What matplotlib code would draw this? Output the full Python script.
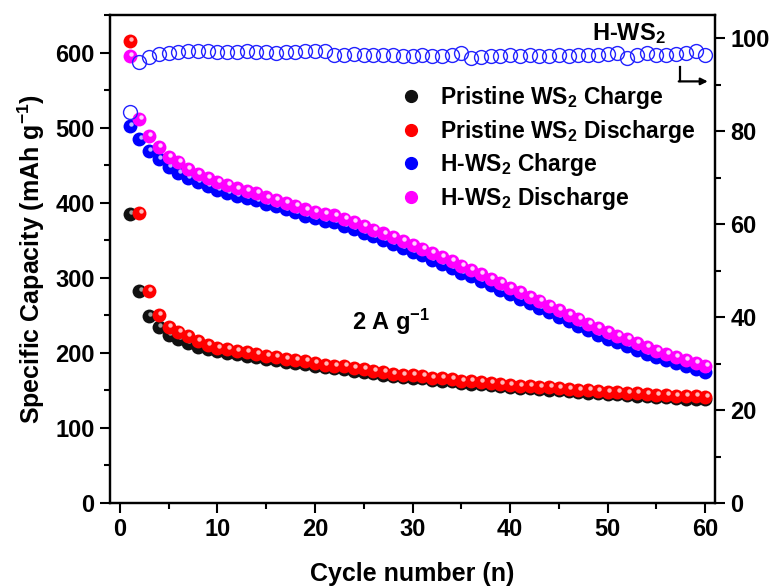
import matplotlib
matplotlib.use('Agg')
import matplotlib.pyplot as plt
from matplotlib.lines import Line2D
from matplotlib.transforms import offset_copy

plt.rcParams['font.family'] = ['Liberation Sans', 'DejaVu Sans']
plt.rcParams['font.weight'] = 'bold'
plt.rcParams['mathtext.fontset'] = 'custom'
plt.rcParams['mathtext.rm'] = 'Liberation Sans:bold'
plt.rcParams['mathtext.it'] = 'Liberation Sans:bold'
plt.rcParams['mathtext.bf'] = 'Liberation Sans:bold'
plt.rcParams['mathtext.default'] = 'bf'

# cycle index
cycles = list(range(1, 61))

# pristine WS2, specific capacity (mAh/g)
pristine_charge = [385, 282, 249, 234, 224, 218, 213, 208, 205, 202,
                   200, 198, 196, 194, 192, 190, 188, 187, 185, 183,
                   181, 180, 178, 176, 174, 173, 171, 169, 168, 167,
                   166, 164, 163, 162, 160, 159, 158, 157, 156, 154,
                   153, 153, 152, 151, 150, 149, 148, 147, 146, 145,
                   145, 144, 143, 142, 141, 141, 140, 139, 139, 138]
pristine_discharge = [615, 386, 283, 250, 235, 228, 222, 216, 211, 207,
                      205, 203, 201, 199, 196, 194, 192, 190, 189, 187,
                      184, 183, 182, 180, 178, 176, 174, 172, 171, 170,
                      169, 167, 166, 165, 163, 162, 161, 160, 159, 157,
                      156, 156, 155, 154, 153, 152, 151, 150, 149, 148,
                      148, 147, 146, 145, 144, 144, 143, 142, 142, 141]

# H-WS2, specific capacity (mAh/g)
h_charge = [502, 485, 469, 458, 447, 440, 433, 427, 422, 417,
            413, 409, 406, 403, 398, 395, 391, 387, 382, 379,
            376, 374, 369, 365, 360, 355, 350, 345, 340, 335,
            330, 324, 319, 313, 307, 302, 296, 290, 284, 278,
            272, 266, 260, 254, 248, 242, 236, 230, 224, 219,
            214, 209, 204, 199, 194, 190, 186, 182, 178, 174]
h_discharge = [596, 511, 489, 474, 461, 454, 445, 438, 433, 428,
               423, 419, 416, 413, 407, 404, 400, 396, 391, 388,
               385, 383, 378, 374, 369, 364, 359, 354, 349, 344,
               339, 333, 328, 322, 316, 311, 305, 299, 293, 287,
               281, 275, 269, 263, 257, 251, 245, 239, 233, 228,
               223, 218, 213, 208, 203, 199, 195, 191, 187, 183]

# H-WS2 coulombic efficiency (%)
h_efficiency = [84.1, 94.8, 95.9, 96.6, 96.9, 97.1, 97.2, 97.2, 97.2, 97.1,
                97.0, 97.1, 97.2, 97.1, 97.0, 96.9, 97.0, 97.1, 97.3, 97.3,
                97.2, 96.3, 96.5, 96.6, 96.4, 96.5, 96.3, 96.4, 96.2, 96.1,
                96.3, 96.2, 96.1, 96.3, 96.8, 95.7, 96.0, 96.2, 96.1, 96.3,
                96.2, 96.3, 96.2, 96.1, 96.3, 96.2, 96.4, 96.5, 96.4, 96.6,
                96.9, 95.7, 96.4, 96.9, 96.5, 96.4, 96.6, 96.8, 97.3, 96.4]

series_labels = ['Pristine WS$_2$ Charge', 'Pristine WS$_2$ Discharge',
                 'H-WS$_2$ Charge', 'H-WS$_2$ Discharge']
ball_colors = ['#111111', '#ff0000', '#0000ff', '#ff00ff']
shine_colors = ['#a0a0a0', '#ffb8b8', '#b8b8ff', '#ffd0ff']

fig = plt.figure(figsize=(7.71, 5.87), dpi=100)
ax = fig.add_axes([0.1427, 0.1431, 0.7847, 0.8313])


def balls(ax, x, y, color, shine, size=10, z=3):
    # shaded sphere: solid disc plus a small highlight up and to the right
    ax.plot(x, y, 'o', ms=size, mfc=color, mec=color, mew=0, zorder=z,
            clip_on=False)
    tr = offset_copy(ax.transData, fig=ax.figure, x=1.0, y=1.4, units='points')
    ax.plot(x, y, 'o', ms=size * 0.32, mfc=shine, mec='none', zorder=z,
            transform=tr, clip_on=False)


balls(ax, cycles, pristine_charge, ball_colors[0], shine_colors[0], z=3)
balls(ax, cycles, pristine_discharge, ball_colors[1], shine_colors[1], z=4)
balls(ax, cycles, h_charge, ball_colors[2], shine_colors[2], z=3)
balls(ax, cycles, h_discharge, ball_colors[3], shine_colors[3], z=4)

ax.set_xlim(-1, 61)
ax.set_ylim(0, 650)
ax.set_xticks(range(0, 61, 10))
ax.set_xticks(range(5, 61, 10), minor=True)
ax.set_yticks(range(0, 601, 100))
ax.set_yticks(range(50, 651, 100), minor=True)
ax.set_xlabel('Cycle number (n)', fontsize=18, fontweight='bold', labelpad=15)
ax.set_ylabel('Specific Capacity (mAh g$^{-1}$)', fontsize=18,
              fontweight='bold', labelpad=6)

ax2 = ax.twinx()
ax2.plot(cycles, h_efficiency, 'o', ms=10, mfc='none', mec='#2222ff',
         mew=1.0, zorder=5, clip_on=False)
ax2.set_ylim(0, 105)
ax2.set_yticks(range(0, 101, 20))
ax2.set_yticks(range(10, 101, 20), minor=True)

for a in (ax, ax2):
    for s in a.spines.values():
        s.set_linewidth(1.6)
    a.tick_params(which='major', direction='out', length=7, width=1.5,
                  labelsize=17, pad=4)
    a.tick_params(which='minor', direction='out', length=4, width=1.5)
ax.tick_params(top=False, right=False, which='both')
ax2.tick_params(axis='y', which='both', left=False, right=True)

handles = [Line2D([], [], ls='none', marker='o', ms=8.5, mfc=c, mec=c)
           for c in ball_colors]
ax.legend(handles, series_labels, loc='upper left',
          bbox_to_anchor=(0.462, 0.878), frameon=False, fontsize=16.5,
          handletextpad=0.7, labelspacing=0.3, handlelength=1.1,
          borderaxespad=0)

ax.text(0.857, 0.963, 'H-WS$_2$', transform=ax.transAxes, fontsize=17,
        fontweight='bold', ha='center', va='center')
ax.text(0.465, 0.372, '2 A g$^{-1}$', transform=ax.transAxes, fontsize=17,
        fontweight='bold', ha='center', va='center')

# arrow pointing at the right-hand axis
ax.plot([0.942, 0.942], [0.893, 0.864], color='black', lw=1.6,
        transform=ax.transAxes, clip_on=False)
ax.annotate('', xy=(0.988, 0.864), xytext=(0.940, 0.864),
            xycoords='axes fraction',
            arrowprops=dict(arrowstyle='-|>', color='black', lw=1.6,
                            mutation_scale=10, shrinkA=0, shrinkB=0))

fig.savefig('out.png', dpi=100)
